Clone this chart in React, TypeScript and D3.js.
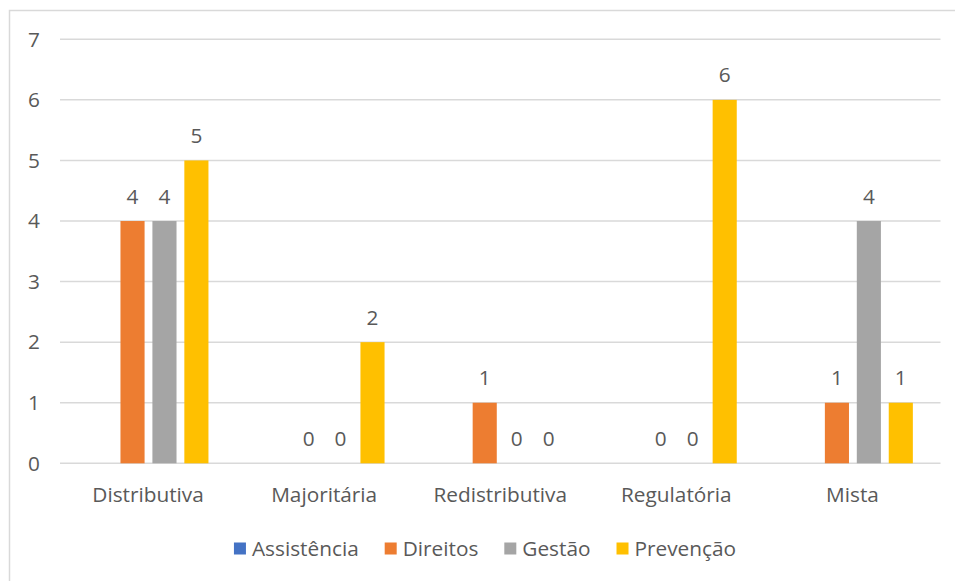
import React, { useEffect, useRef } from "react";
import * as d3 from "d3";

const categories = ["Distributiva", "Majoritária", "Redistributiva", "Regulatória", "Mista"];
const seriesNames = ["Assistência", "Direitos", "Gestão", "Prevenção"];
const seriesColors = ["#4472C4", "#ED7D31", "#A5A5A5", "#FFC000"];
// one value per category; null means no entry for that series
const assistencia: (number | null)[] = [null, null, null, null, null];
const direitos: (number | null)[] = [4, 0, 1, 0, 1];
const gestao: (number | null)[] = [4, 0, 0, 0, 4];
const prevencao: (number | null)[] = [5, 2, 0, 6, 1];
const yTicks = [0, 1, 2, 3, 4, 5, 6, 7];

const W = 955;
const H = 581;
const FONT = "'Open Sans', 'Noto Sans', sans-serif";
const FS = 20.8;
const TEXT = "#595959";

export default function App() {
  const ref = useRef<SVGSVGElement | null>(null);

  useEffect(() => {
    document.body.style.margin = "0";
    const svg = d3.select(ref.current);
    svg.selectAll("*").remove();

    const series = [assistencia, direitos, gestao, prevencao];
    const plot = { left: 60, right: 940.5, top: 39.3, bottom: 463.3 };

    svg.append("rect").attr("width", W).attr("height", H).attr("fill", "#fff");
    // chart frame
    svg.append("rect")
      .attr("x", 9.5).attr("y", 10.5)
      .attr("width", W + 20).attr("height", H + 20)
      .attr("fill", "none").attr("stroke", "#d9d9d9").attr("stroke-width", 1.5);

    const x0 = d3.scaleBand<string>().domain(categories).range([plot.left, plot.right]);
    const bw = x0.bandwidth();
    const x1 = d3.scaleBand<string>().domain(seriesNames)
      .range([bw * 0.162, bw * 0.843]).paddingInner(0.245).paddingOuter(0);
    const y = d3.scaleLinear().domain([0, 7]).range([plot.bottom, plot.top]);

    // gridlines
    svg.append("g").selectAll("line").data(yTicks).join("line")
      .attr("x1", plot.left).attr("x2", plot.right)
      .attr("y1", (d) => y(d)).attr("y2", (d) => y(d))
      .attr("stroke", "#d9d9d9").attr("stroke-width", 1.5);

    // y tick labels
    svg.append("g").selectAll("text").data(yTicks).join("text")
      .attr("x", 40).attr("y", (d) => y(d))
      .attr("dy", "0.35em").attr("text-anchor", "end")
      .attr("font-family", FONT).attr("font-size", FS).attr("fill", TEXT)
      .text((d) => d);

    // bars and value labels
    const groups = svg.append("g").selectAll("g").data(categories).join("g")
      .attr("transform", (c) => `translate(${x0(c)},0)`);
    groups.each(function (c, ci) {
      const g = d3.select(this);
      seriesNames.forEach((s, si) => {
        const v = series[si][ci];
        if (v === null) return;
        const bx = x1(s)!;
        if (v > 0) {
          g.append("rect")
            .attr("x", bx).attr("y", y(v))
            .attr("width", x1.bandwidth()).attr("height", y(0) - y(v))
            .attr("fill", seriesColors[si]);
        }
        g.append("text")
          .attr("x", bx + x1.bandwidth() / 2).attr("y", y(v) - 17.5)
          .attr("text-anchor", "middle")
          .attr("font-family", FONT).attr("font-size", FS).attr("fill", TEXT)
          .text(v);
      });
    });

    // category labels
    svg.append("g").selectAll("text").data(categories).join("text")
      .attr("x", (c) => x0(c)! + bw / 2).attr("y", 495)
      .attr("dy", "0.35em").attr("text-anchor", "middle")
      .attr("font-family", FONT).attr("font-size", FS).attr("fill", TEXT)
      .text((c) => c);

    // legend
    const legend = svg.append("g");
    let cx = 0;
    seriesNames.forEach((s, i) => {
      const item = legend.append("g").attr("transform", `translate(${cx},0)`);
      item.append("rect").attr("x", 0).attr("y", -6).attr("width", 12).attr("height", 12)
        .attr("fill", seriesColors[i]);
      const t = item.append("text").attr("x", 18).attr("y", 0).attr("dy", "0.35em")
        .attr("font-family", FONT).attr("font-size", FS).attr("fill", TEXT)
        .text(s);
      const tw = (t.node() as SVGTextElement).getComputedTextLength();
      cx += 18 + tw + 26;
    });
    const total = cx - 26;
    legend.attr("transform", `translate(${485 - total / 2},548.5)`);
  }, []);

  return <svg ref={ref} width={W} height={H} style={{ display: "block" }} />;
}
